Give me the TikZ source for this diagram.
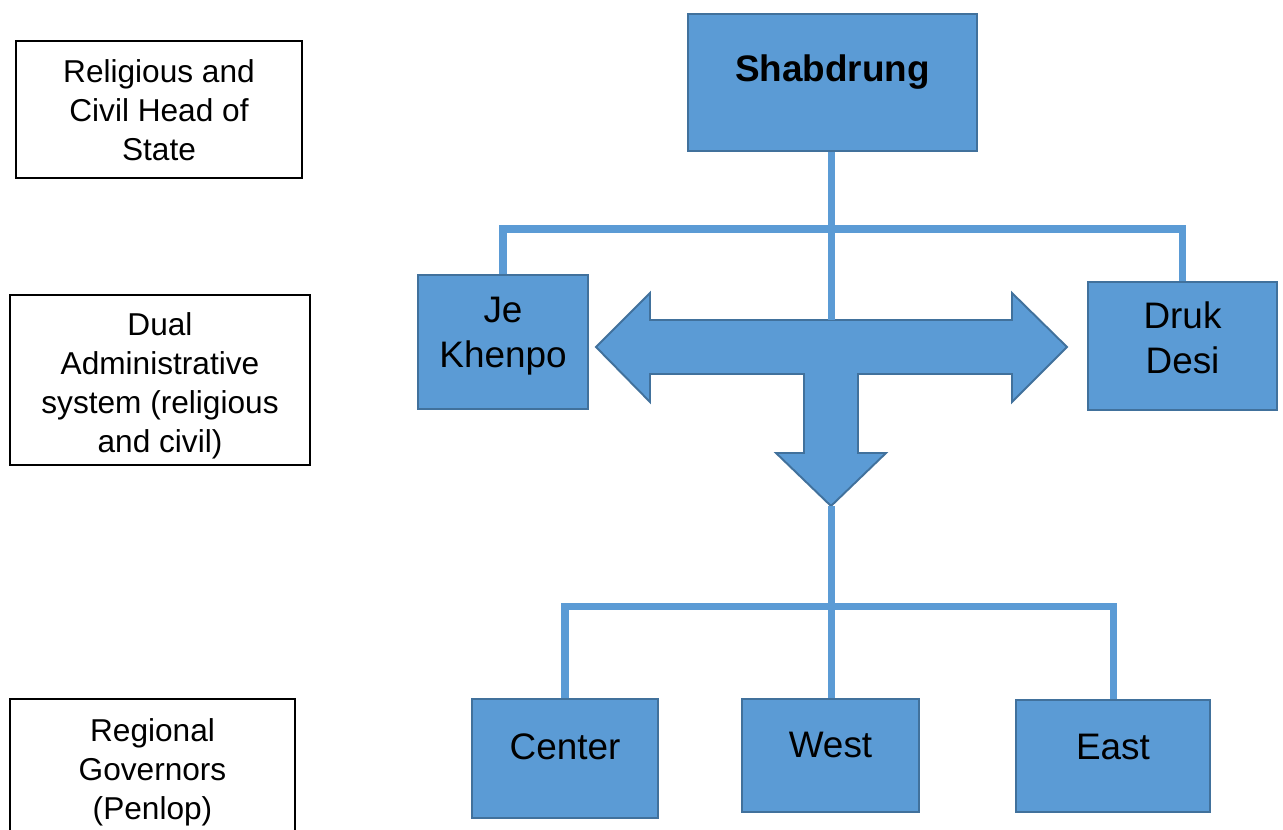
\documentclass[tikz,border=0pt]{standalone}
\usepackage{fontspec}
\setmainfont{Liberation Sans}
\usepackage{xcolor}

\definecolor{boxfill}{HTML}{5B9BD5}
\definecolor{boxedge}{HTML}{41719C}

\tikzset{
	bluebox/.style={draw=boxedge, fill=boxfill, line width=1.1pt, inner sep=0pt},
	levelbox/.style={draw=black, line width=0.7pt, inner sep=0pt},
	leveltext/.style={font=\fontsize{18}{22.2}\selectfont, align=center},
	boxtext/.style={font=\fontsize{21}{25.5}\selectfont, align=center},
	link/.style={draw=boxfill, line width=4pt}
}

\begin{document}
\begin{tikzpicture}[x=0.02cm, y=-0.02cm]
			\useasboundingbox (0,0) rectangle (1283,829);
			
			\node[levelbox, minimum width=5.72cm, minimum height=2.74cm,
				label={[leveltext, yshift=-0.02cm]center:Religious and\\Civil Head of\\State}] (lvltop) at (159,109.5) {};
			\node[levelbox, minimum width=6cm, minimum height=3.4cm,
				label={[leveltext, yshift=-0.12cm]center:Dual\\Administrative\\system (religious\\and civil)}] (lvlmid) at (160,380) {};
			\node[levelbox, minimum width=5.7cm, minimum height=2.72cm,
				label={[leveltext, yshift=-0.1cm]center:Regional\\Governors\\(Penlop)}] (lvlbot) at (152.5,767) {};
			
			\node[bluebox, minimum width=5.78cm, minimum height=2.74cm,
				label={[boxtext, yshift=0.2cm]center:\bfseries Shabdrung}] (shab) at (832.5,82.5) {};
			\node[bluebox, minimum width=3.4cm, minimum height=2.68cm,
				label={[boxtext, yshift=0.12cm]center:Je\\Khenpo}] (jek) at (503,342) {};
			\node[bluebox, minimum width=3.78cm, minimum height=2.56cm,
				label={[boxtext, yshift=0.16cm]center:Druk\\Desi}] (druk) at (1182.5,346) {};
			
			\node[bluebox, minimum width=3.72cm, minimum height=2.38cm,
				label={[boxtext, yshift=0.23cm]center:Center}] (center) at (565,758.5) {};
			\node[bluebox, minimum width=3.54cm, minimum height=2.26cm,
				label={[boxtext, yshift=0.21cm]center:West}] (west) at (830.5,755.5) {};
			\node[bluebox, minimum width=3.88cm, minimum height=2.24cm,
				label={[boxtext, yshift=0.18cm]center:East}] (east) at (1113,756) {};
			
			%three-way arrow
			\draw[bluebox] (596,347) -- (650,293) -- (650,320) -- (1012,320) -- (1012,293)
				-- (1067,347) -- (1012,402) -- (1012,374) -- (858,374) -- (858,453)
				-- (886,453) -- (831,506) -- (776,453) -- (804,453) -- (804,374)
				-- (650,374) -- (650,402) -- cycle;
			\coordinate (arrtop) at (831,320);
			\coordinate (arrtip) at (831,506);
			\coordinate (topbar) at (831,229);
			\coordinate (lowbar) at (831,606);
			
			\draw[link] (arrtop |- shab.south) -- (arrtop);
			\draw[link] (jek.north) -- (jek.north |- topbar) -- (druk.north |- topbar) -- (druk.north);
			\draw[link] (arrtip) -- (arrtip |- west.north);
			\draw[link] (center.north) -- (center.north |- lowbar) -- (east.north |- lowbar) -- (east.north);
\end{tikzpicture}
\end{document}
